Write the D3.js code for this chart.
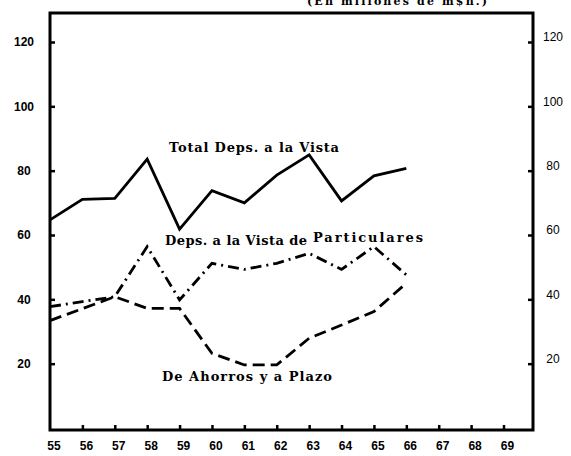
<!DOCTYPE html>
<html>
<head>
<meta charset="utf-8">
<script src="https://cdn.jsdelivr.net/npm/d3@7"></script>
<style>
  body { margin: 0; background: #fff; }
  svg { display: block; }
</style>
</head>
<body>
<div id="chart"></div>
<script>
// years and series (values in the chart's units)
var years = [55, 56, 57, 58, 59, 60, 61, 62, 63, 64, 65, 66];
var totalVista = [64.7, 71.1, 71.4, 83.6, 61.8, 73.8, 70.0, 78.6, 84.9, 70.6, 78.4, 80.7];
var particulares = [37.7, 39.3, 40.8, 56.4, 39.8, 51.2, 49.3, 51.2, 54.3, 49.3, 56.4, 47.6];
var ahorrosPlazo = [33.4, 37.1, 40.8, 37.2, 37.2, 23.2, 19.6, 19.6, 27.9, 32.0, 36.2, 45.0];

// axis tick labels
var xTicks = [55, 56, 57, 58, 59, 60, 61, 62, 63, 64, 65, 66, 67, 68, 69];
var yTicks = [20, 40, 60, 80, 100, 120];

var w = 571, h = 456;
var frame = {left: 50, right: 533, top: 13, bottom: 430};

var svg = d3.select("#chart").append("svg")
  .attr("width", w)
  .attr("height", h);

var x = d3.scaleLinear().domain([55, 69]).range([frame.left, 503.5]);
var y = d3.scaleLinear().domain([0, 120]).range([428, 42]);

var ink = "#000";
var numFont = "'Liberation Sans', Arial, sans-serif";
var lblFont = "'DejaVu Serif', 'Liberation Serif', serif";

// frame
svg.append("path")
  .attr("d", "M" + frame.left + "," + frame.top + "H" + frame.right + "V" + frame.bottom + "H" + frame.left + "Z")
  .attr("fill", "none")
  .attr("stroke", ink)
  .attr("stroke-width", 3);

// header, mostly cut off at the top edge as in the scan
svg.append("text")
  .attr("x", 307).attr("y", 5)
  .attr("textLength", 180).attr("lengthAdjust", "spacing")
  .attr("font-family", lblFont)
  .attr("font-weight", "bold")
  .attr("font-size", 11)
  .text("(En millones de m$n.)");

// left axis
var yLeft = d3.axisRight(y).tickValues(yTicks).tickSize(5).tickFormat("");
svg.append("g")
  .attr("transform", "translate(" + frame.left + ",0)")
  .call(yLeft)
  .call(function(g) { g.select(".domain").remove(); })
  .selectAll("line").attr("stroke-width", 2.5);

svg.append("g").selectAll("text")
  .data(yTicks).enter().append("text")
  .attr("x", 24).attr("y", function(d) { return y(d) + 1; })
  .attr("text-anchor", "middle")
  .attr("dominant-baseline", "middle")
  .attr("font-family", numFont)
  .attr("font-weight", "bold")
  .attr("font-size", 12)
  .text(function(d) { return d; });

// right axis
var yRight = d3.axisLeft(y).tickValues(yTicks).tickSize(5).tickFormat("");
svg.append("g")
  .attr("transform", "translate(" + frame.right + ",0)")
  .call(yRight)
  .call(function(g) { g.select(".domain").remove(); })
  .selectAll("line").attr("stroke-width", 2.5);

svg.append("g").selectAll("text")
  .data(yTicks).enter().append("text")
  .attr("x", 553).attr("y", function(d) { return y(d) - 4; })
  .attr("text-anchor", "middle")
  .attr("dominant-baseline", "middle")
  .attr("font-family", numFont)
  .attr("font-size", 12)
  .text(function(d) { return d; });

// bottom axis
var xAxis = d3.axisTop(x).tickValues(xTicks.slice(1)).tickSize(5).tickFormat("");
svg.append("g")
  .attr("transform", "translate(0," + frame.bottom + ")")
  .call(xAxis)
  .call(function(g) { g.select(".domain").remove(); })
  .selectAll("line").attr("stroke-width", 2.5);

svg.append("g").selectAll("text")
  .data(xTicks).enter().append("text")
  .attr("x", function(d) { return x(d) + 4; })
  .attr("y", 447)
  .attr("text-anchor", "middle")
  .attr("dominant-baseline", "middle")
  .attr("font-family", numFont)
  .attr("font-weight", "bold")
  .attr("font-size", 12)
  .text(function(d) { return d; });

// series
var line = d3.line()
  .x(function(d) { return x(d[0]); })
  .y(function(d) { return y(d[1]); });

function pairs(vals) { return years.map(function(yr, i) { return [yr, vals[i]]; }); }

svg.append("path")
  .attr("d", line(pairs(totalVista)))
  .attr("fill", "none").attr("stroke", ink)
  .attr("stroke-width", 2.8).attr("stroke-linejoin", "miter");

svg.append("path")
  .attr("d", line(pairs(particulares)))
  .attr("fill", "none").attr("stroke", ink)
  .attr("stroke-width", 2.8)
  .attr("stroke-dasharray", "11,5,2,5");

svg.append("path")
  .attr("d", line(pairs(ahorrosPlazo)))
  .attr("fill", "none").attr("stroke", ink)
  .attr("stroke-width", 2.8)
  .attr("stroke-dasharray", "12,6");

// series labels, stretched to the widths seen in the scan
function label(txt, xx, yy, len) {
  return svg.append("text")
    .attr("x", xx).attr("y", yy)
    .attr("textLength", len).attr("lengthAdjust", "spacing")
    .attr("font-family", lblFont)
    .attr("font-weight", "bold")
    .attr("font-size", 13)
    .text(txt);
}
label("Total Deps. a la Vista", 169, 152, 170);
label("Deps. a la Vista de", 165, 245, 142);
label("Particulares", 313, 242, 110);
label("De Ahorros y a Plazo", 162, 381, 170);
</script>
</body>
</html>
